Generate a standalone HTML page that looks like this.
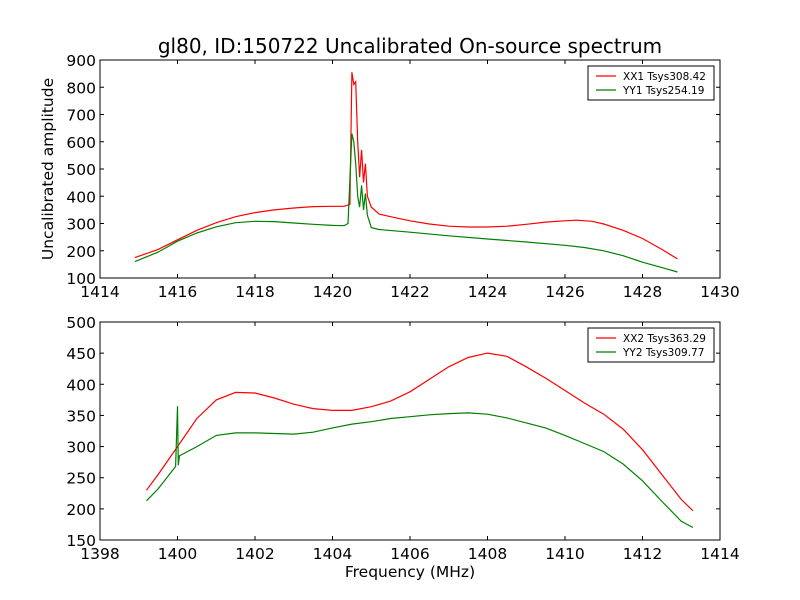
<!DOCTYPE html>
<html><head><meta charset="utf-8"><style>
body{margin:0;background:#fff;}
svg{display:block;font-family:"DejaVu Sans","Liberation Sans",sans-serif;}
</style></head><body>
<svg id="chart" width="800" height="600"></svg>
<script>
const topXX1F=[1414.9,1415.5,1416,1416.5,1417,1417.5,1418,1418.5,1419,1419.5,1420,1420.3,1420.45,1420.5,1420.55,1420.6,1420.65,1420.7,1420.75,1420.8,1420.85,1420.9,1421,1421.2,1421.5,1422,1422.5,1423,1423.5,1424,1424.5,1425,1425.5,1426,1426.3,1426.7,1427,1427.5,1428,1428.5,1428.9];
const topXX1V=[175,205,240,275,303,325,340,350,357,362,363,363,370,855,810,820,600,470,570,450,520,400,360,335,325,310,298,290,287,287,290,297,305,310,312,308,298,275,245,205,170];
const topYY1F=[1414.9,1415.5,1416,1416.5,1417,1417.5,1418,1418.5,1419,1419.5,1420,1420.3,1420.4,1420.5,1420.55,1420.6,1420.65,1420.7,1420.75,1420.8,1420.85,1420.9,1421,1421.2,1422,1423,1424,1425,1426,1426.5,1427,1427.5,1428,1428.5,1428.9];
const topYY1V=[160,195,235,265,288,303,308,307,302,297,293,292,300,630,600,520,400,360,440,350,410,330,285,278,268,255,243,232,220,212,200,182,158,138,122];
const botXX2F=[1399.2,1399.5,1400,1400.5,1401,1401.5,1402,1402.5,1403,1403.5,1404,1404.5,1405,1405.5,1406,1406.5,1407,1407.5,1408,1408.5,1409,1409.5,1410,1410.5,1411,1411.5,1412,1412.5,1413,1413.3];
const botXX2V=[230,255,300,345,375,387,386,378,368,361,358,358,364,373,388,408,428,443,450,445,428,410,390,370,352,328,295,255,215,197];
const botYY2F=[1399.2,1399.5,1399.95,1400,1400.02,1400.05,1400.5,1401,1401.5,1402,1402.5,1403,1403.5,1404,1404.5,1405,1405.5,1406,1406.5,1407,1407.5,1408,1408.5,1409,1409.5,1410,1410.5,1411,1411.5,1412,1412.5,1413,1413.3];
const botYY2V=[213,232,268,365,270,285,300,318,322,322,321,320,323,330,336,340,345,348,351,353,354,352,346,338,330,318,305,292,272,245,212,180,170];
const topXTicks=[1414,1416,1418,1420,1422,1424,1426,1428,1430];
const topYTicks=[100,200,300,400,500,600,700,800,900];
const botXTicks=[1398,1400,1402,1404,1406,1408,1410,1412,1414];
const botYTicks=[150,200,250,300,350,400,450,500];

const NS="http://www.w3.org/2000/svg";
const svg=document.getElementById('chart');
function mk(t,a,p){const e=document.createElementNS(NS,t);for(const k in a)e.setAttribute(k,a[k]);(p||svg).appendChild(e);return e;}

function panel(cfg){
  const {x0,x1,y0,y1,xmin,xmax,ymin,ymax,xt,yt,series,legend,name}=cfg;
  const g=mk('g',{});
  
  
  const sx=v=>x0+(v-xmin)/(xmax-xmin)*(x1-x0);
  const sy=v=>y1-(v-ymin)/(ymax-ymin)*(y1-y0);
  series.forEach(s=>{
    const d=s.f.map((f,i)=>(i?'L':'M')+sx(f).toFixed(1)+','+sy(s.v[i]).toFixed(1)).join('');
    const p=mk('path',{d:d,fill:'none',stroke:s.c,'stroke-width':1.2},g);
    
    
  });
  const fr=mk('rect',{x:x0,y:y0,width:x1-x0,height:y1-y0,fill:'none',stroke:'#000','stroke-width':1},g);
  
  
  xt.forEach(v=>{
    const X=sx(v);
    mk('line',{x1:X,x2:X,y1:y1,y2:y1-4,stroke:'#000'},g);
    mk('line',{x1:X,x2:X,y1:y0,y2:y0+4,stroke:'#000'},g);
    const t=mk('text',{x:X,y:y1+19,'text-anchor':'middle','font-size':15.5},g);
    t.textContent=v;
    
    
  });
  yt.forEach(v=>{
    const Y=sy(v);
    mk('line',{x1:x0,x2:x0+4,y1:Y,y2:Y,stroke:'#000'},g);
    mk('line',{x1:x1,x2:x1-4,y1:Y,y2:Y,stroke:'#000'},g);
    const t=mk('text',{x:x0-4,y:Y+6,'text-anchor':'end','font-size':15.5},g);
    t.textContent=v;
    
    
  });
  const lg=mk('g',{},g);
  
  
  mk('rect',{x:legend.x,y:legend.y,width:126,height:34,fill:'#fff',stroke:'#000'},lg);
  series.forEach((s,i)=>{
    const Y=legend.y+10+i*14;
    mk('line',{x1:legend.x+8,x2:legend.x+28,y1:Y,y2:Y,stroke:s.c,'stroke-width':1.2},lg);
    const t=mk('text',{x:legend.x+35,y:Y+4,'font-size':10.5},lg);
    t.textContent=s.label;
    
    
  });
}

panel({name:'top-panel',x0:100,x1:720,y0:60,y1:278,xmin:1414,xmax:1430,ymin:100,ymax:900,xt:topXTicks,yt:topYTicks,legend:{x:588,y:66},
  series:[{f:topXX1F,v:topXX1V,c:'#ff0000',n:'xx1-line',label:'XX1 Tsys308.42'},{f:topYY1F,v:topYY1V,c:'#008000',n:'yy1-line',label:'YY1 Tsys254.19'}]});
panel({name:'bottom-panel',x0:100,x1:720,y0:322,y1:540,xmin:1398,xmax:1414,ymin:150,ymax:500,xt:botXTicks,yt:botYTicks,legend:{x:588,y:328},
  series:[{f:botXX2F,v:botXX2V,c:'#ff0000',n:'xx2-line',label:'XX2 Tsys363.29'},{f:botYY2F,v:botYY2V,c:'#008000',n:'yy2-line',label:'YY2 Tsys309.77'}]});

let t=mk('text',{x:410,y:53,'text-anchor':'middle','font-size':20});
t.textContent='gl80, ID:150722 Uncalibrated On-source spectrum';


t=mk('text',{x:53,y:169,'text-anchor':'middle','font-size':15.5,transform:'rotate(-90 53 169)'});
t.textContent='Uncalibrated amplitude';


t=mk('text',{x:410,y:577,'text-anchor':'middle','font-size':15.5});
t.textContent='Frequency (MHz)';


</script>
</body></html>
